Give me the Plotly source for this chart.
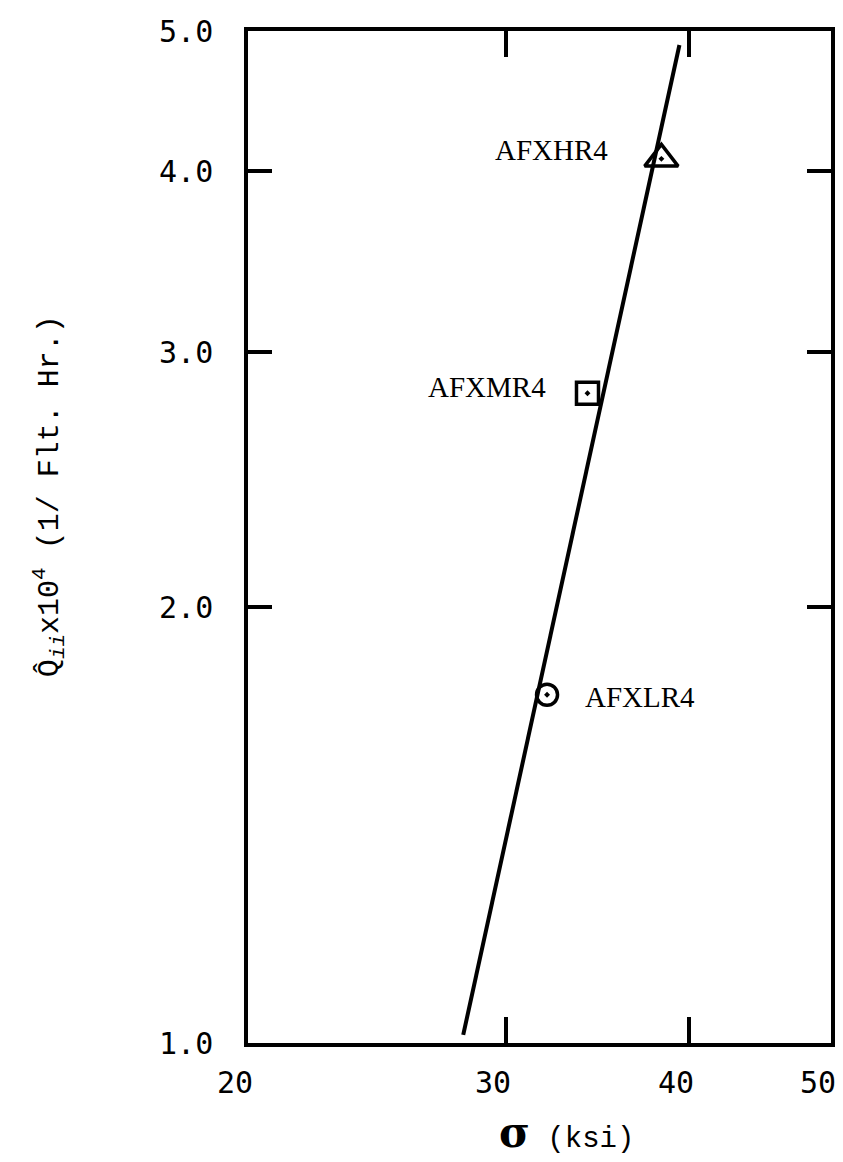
import math
import plotly.graph_objects as go

# Measured specimens: stress level (ksi) vs. rate parameter (x10^4, per flight hour)
specimen_names = ["AFXHR4", "AFXMR4", "AFXLR4"]
specimen_sigma = [38.3, 34.1, 32.0]
specimen_q = [4.08, 2.81, 1.74]
specimen_symbols = ["triangle-up-open-dot", "square-open-dot", "circle-open-dot"]
specimen_sizes = [29, 22, 21]

# Straight-line fit on log-log scales
fit_sigma = [28.05, 39.4]
fit_q = [1.013, 4.89]

# Axis ticks
x_ticks = [20, 30, 40, 50]
x_tick_text = ["20", "30", "40", "50"]
y_ticks = [1, 2, 3, 4, 5]
y_tick_text = ["1.0", "2.0", "3.0", "4.0", "5.0"]

# Label placement next to each marker: (anchor, x shift px, y shift px)
label_place = [("right", -51, 9), ("right", -39, 6), ("left", 36, -2)]

fig = go.Figure()

fig.add_trace(go.Scatter(
    x=fit_sigma, y=fit_q, mode="lines",
    line=dict(color="black", width=4),
    showlegend=False, hoverinfo="skip",
))

fig.add_trace(go.Scatter(
    x=specimen_sigma, y=specimen_q, mode="markers",
    marker=dict(symbol=specimen_symbols, size=specimen_sizes, color="black",
                opacity=1, line=dict(color="black", width=3.5)),
    showlegend=False,
))

label_font = dict(family="Liberation Serif", size=29, color="black")
for name, sx, qy, (anchor, dx, dy) in zip(specimen_names, specimen_sigma, specimen_q, label_place):
    fig.add_annotation(
        x=math.log10(sx), y=math.log10(qy), xref="x", yref="y",
        text=name, showarrow=False, xanchor=anchor, yanchor="middle",
        xshift=dx, yshift=dy, font=label_font,
    )

mono = "Liberation Mono"

# y-axis title
fig.add_annotation(
    xref="paper", yref="paper", x=-0.342, y=0.54,
    text="Q\u0302<sub><i>ii</i></sub>x10<sup>4</sup> (1/ Flt. Hr.)",
    textangle=-90, showarrow=False, xanchor="center", yanchor="middle",
    font=dict(family=mono, size=30, color="black"),
)

# x-axis title
fig.add_annotation(
    xref="paper", yref="paper", x=0.546, y=-0.088,
    text="<span style='font-size:42px;font-family:DejaVu Serif'><b>\u03c3</b></span> (ksi)",
    showarrow=False, xanchor="center", yanchor="middle",
    font=dict(family=mono, size=29, color="black"),
)

tick_font = dict(family="DejaVu Sans Mono", size=30, color="black")

fig.update_xaxes(
    type="log", range=[math.log10(20), math.log10(50)],
    tickvals=x_ticks, ticktext=x_tick_text,
    ticks="inside", ticklen=26, tickwidth=3.5, tickcolor="black",
    showline=True, linewidth=3.5, linecolor="black", mirror="ticks",
    showgrid=False, zeroline=False,
    tickfont=tick_font, ticklabelshift=-13, ticklabelstandoff=10,
)
fig.update_yaxes(
    type="log", range=[0, math.log10(5)],
    tickvals=y_ticks, ticktext=y_tick_text,
    ticks="inside", ticklen=24, tickwidth=3.5, tickcolor="black",
    showline=True, linewidth=3.5, linecolor="black", mirror="ticks",
    showgrid=False, zeroline=False,
    tickfont=tick_font, ticklabelstandoff=25,
)

fig.update_layout(
    width=843, height=1162,
    margin=dict(l=248, r=7, t=31, b=119),
    paper_bgcolor="white", plot_bgcolor="white",
    showlegend=False,
)

fig.write_html("out.html")
